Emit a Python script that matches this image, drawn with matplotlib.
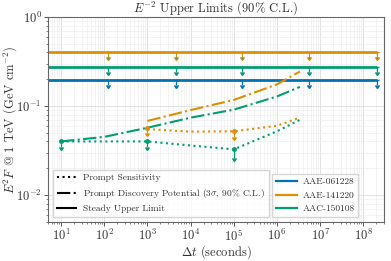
import numpy as np
import matplotlib
matplotlib.use("Agg")
import matplotlib.pyplot as plt
from matplotlib.lines import Line2D

plt.rcParams['font.family'] = ['cmr10', 'DejaVu Serif']
plt.rcParams['mathtext.fontset'] = 'cm'
plt.rcParams['axes.unicode_minus'] = False
plt.rcParams['axes.formatter.use_mathtext'] = True

# ---- data ----
sources = ["AAE-061228", "AAE-141220", "AAC-150108"]
colors = ["#0173b2", "#de8f05", "#029e73"]
steady_limits = [0.195, 0.405, 0.277]
steady_x = [5, 2.1e8]
steady_marker_x = [120, 4.5e3, 1.57e5, 5.6e6, 2.1e8]

# prompt sensitivity (dotted)
sens_x_orange = [1e3, 1e4, 1e5, 1e6, 3.4e6]
sens_y_orange = [0.055, 0.0515, 0.052, 0.060, 0.074]
sens_x_green = [10, 1e2, 1e3, 1e4, 1e5, 1e6, 3.4e6]
sens_y_green = [0.040, 0.040, 0.040, 0.036, 0.0326, 0.052, 0.070]

# prompt discovery potential (dash-dot)
disc_x_orange = [1e3, 1e4, 1e5, 1e6, 3.4e6]
disc_y_orange = [0.068, 0.090, 0.117, 0.175, 0.244]
disc_x_green = [10, 1e2, 1e3, 1e4, 1e5, 1e6, 3.4e6]
disc_y_green = [0.040, 0.045, 0.057, 0.074, 0.091, 0.128, 0.164]

# upper-limit points
ul_x_orange = [1e3, 1e5]
ul_y_orange = [0.057, 0.052]
ul_x_green = [10, 1e3, 1e5]
ul_y_green = [0.040, 0.040, 0.0326]

fig = plt.figure(figsize=(3.91, 2.61), dpi=100)
ax = fig.add_axes([0.123, 0.15, 0.859, 0.785])
ax.set_xscale('log')
ax.set_yscale('log')

# steady limits
for c, lim in zip(colors, steady_limits):
    ax.plot(steady_x, [lim, lim], color=c, lw=2, solid_capstyle='butt')
    ys = np.full(len(steady_marker_x), lim)
    ax.errorbar(steady_marker_x, ys, yerr=0.12 * ys, uplims=True, fmt='none',
                ecolor=c, elinewidth=0.9, capsize=1.2)

# prompt lines
ax.plot(sens_x_orange, sens_y_orange, color=colors[1], ls=':', lw=1.5)
ax.plot(sens_x_green, sens_y_green, color=colors[2], ls=':', lw=1.5)
ax.plot(disc_x_orange, disc_y_orange, color=colors[1], ls='-.', lw=1.5)
ax.plot(disc_x_green, disc_y_green, color=colors[2], ls='-.', lw=1.5)

ul_y_orange = np.array(ul_y_orange)
ul_y_green = np.array(ul_y_green)
ax.errorbar(ul_x_orange, ul_y_orange, yerr=0.13 * ul_y_orange, uplims=True,
            fmt='o', ms=2.5, color=colors[1], elinewidth=0.9, capsize=1.2)
ax.errorbar(ul_x_green, ul_y_green, yerr=np.array([0.13, 0.13, 0.2]) * ul_y_green,
            uplims=True, fmt='o', ms=2.5, color=colors[2], elinewidth=0.9, capsize=1.2)

ax.set_xlim(5, 3e8)
ax.set_ylim(5e-3, 1)
ax.set_xticks([1e1, 1e2, 1e3, 1e4, 1e5, 1e6, 1e7, 1e8])
ax.grid(True, which='major', color='#dddddd', lw=0.6)
ax.grid(True, which='minor', color='#eeeeee', lw=0.5)
ax.set_axisbelow(True)
for s in ax.spines.values():
    s.set_color('#666666')
    s.set_linewidth(0.8)
ax.tick_params(which='both', direction='out', colors='#555555', labelcolor='#333333',
               labelsize=9, pad=1.5)
ax.tick_params(which='major', length=3, width=0.7)
ax.tick_params(which='minor', length=1.5, width=0.5)

ax.set_title(r"$E^{-2}$ Upper Limits (90% C.L.)", fontsize=9, pad=2, color='#333333')
ax.set_xlabel(r"$\Delta t$ (seconds)", fontsize=9, color='#333333')
ax.set_ylabel(r"$E^2F$ @ 1 TeV (GeV cm$^{-2}$)", fontsize=9, color='#333333')
ax.xaxis.set_label_coords(0.5, -0.105)
ax.yaxis.set_label_coords(-0.088, 0.5)

h1 = [Line2D([], [], color='k', ls=':', lw=1.5),
      Line2D([], [], color='k', ls='-.', lw=1.5),
      Line2D([], [], color='k', ls='-', lw=1.5)]
leg1 = ax.legend(h1, ["Prompt Sensitivity",
                      r"Prompt Discovery Potential (3$\sigma$, 90% C.L.)",
                      "Steady Upper Limit"],
                 loc='lower left', bbox_to_anchor=(0.015, 0.024), borderaxespad=0,
                 fontsize=6.8, fancybox=False, framealpha=0.8,
                 edgecolor='#cccccc', handlelength=2.0, handletextpad=0.8)
for t in leg1.get_texts():
    t.set_color('#333333')
ax.add_artist(leg1)
h2 = [Line2D([], [], color=c, lw=1.6) for c in colors]
leg2 = ax.legend(h2, sources, loc='lower right', bbox_to_anchor=(0.923, 0.024),
                 borderaxespad=0, fontsize=6.8, fancybox=False, framealpha=0.8,
                 edgecolor='#cccccc', handlelength=2.2, handletextpad=0.6)
for t in leg2.get_texts():
    t.set_color('#333333')

fig.savefig("out.png", dpi=100)
